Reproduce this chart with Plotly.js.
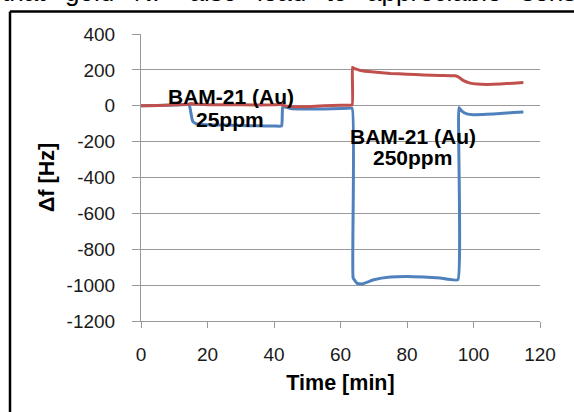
<!DOCTYPE html>
<html>
<head>
<meta charset="utf-8">
<script src="https://cdn.plot.ly/plotly-3.0.1.min.js"></script>
<style>html,body{margin:0;padding:0;background:#fff;}#chart{width:574px;height:412px;}</style>
</head>
<body>
<div id="chart"></div>
<script>
// Time [min] and frequency shift [Hz]
const blueTime = [0, 5, 10, 14.5, 15, 15.5, 16.5, 18, 25, 30, 35, 40, 42.3, 42.6, 43.5, 45, 50, 55, 60, 63.5, 63.8, 65, 66.5, 70, 75, 80, 85, 90, 95.3, 95.6, 96.5, 98, 100, 104, 108, 112, 115];
const blueShift = [0, 2, 4, 5, -40, -85, -100, -105, -108, -110, -112, -113, -113, -5, -8, -15, -18, -18, -16, -15, -960, -990, -993, -970, -955, -952, -955, -960, -970, -10, -30, -45, -50, -48, -43, -38, -35];
const redTime = [0, 5, 10, 14, 15, 16, 20, 30, 40, 42.5, 43, 45, 50, 55, 60, 63.5, 63.6, 64.5, 66, 70, 75, 80, 85, 90, 94.5, 95.5, 97, 99, 101, 104, 108, 112, 115];
const redShift = [0, 2, 5, 8, 12, 10, 6, 5, 5, 8, 2, -5, -5, 0, 3, 5, 214, 205, 197, 188, 180, 176, 172, 169, 167, 160, 140, 126, 121, 119, 121, 126, 130];
const xTicks = [0, 20, 40, 60, 80, 100, 120];
const yTicks = [400, 200, 0, -200, -400, -600, -800, -1000, -1200];
const labels = ["BAM-21 (Au)", "25ppm", "BAM-21 (Au)", "250ppm"];
const topWords = ["that", "gold", "NP", "also", "lead", "to", "appreciable", "sensor"];

const W = 574, H = 412;
const px = v => v / W;
const py = v => (H - v) / H;
const gap = "\u00A0\u00A0\u2009";

const traces = [
  {x: blueTime, y: blueShift, type: 'scatter', mode: 'lines', line: {color: '#4F81BD', width: 3, shape: 'spline', smoothing: 0.3}, showlegend: false, hoverinfo: 'skip'},
  {x: redTime, y: redShift, type: 'scatter', mode: 'lines', line: {color: '#C0504D', width: 3, shape: 'spline', smoothing: 0.3}, showlegend: false, hoverinfo: 'skip'}
];

const tickFont = {family: 'Liberation Sans, Arial, sans-serif', size: 19, color: '#1a1a1a'};
const titleFont = {family: 'Liberation Sans, Arial, sans-serif', size: 21.5, color: '#000'};
const annFont = {family: 'Liberation Sans, Arial, sans-serif', size: 21, color: '#000'};

const layout = {
  width: W, height: H,
  margin: {l: 0, r: 0, t: 0, b: 0},
  paper_bgcolor: '#fff', plot_bgcolor: '#fff',
  showlegend: false,
  xaxis: {
    domain: [px(141), px(540)], range: [0, 120], tickvals: xTicks, ticktext: xTicks.map(String),
    showgrid: false, zeroline: false, showline: true, linecolor: '#999', linewidth: 1,
    ticks: 'outside', ticklen: 6, tickcolor: '#999', tickfont: tickFont, ticklabelstandoff: 10,
    title: {text: '<b>Time [min]</b>', font: titleFont, standoff: 11}, automargin: false, fixedrange: true
  },
  yaxis: {
    domain: [py(321), py(34)], range: [-1200, 400], tickvals: yTicks, ticktext: yTicks.map(String),
    showgrid: true, gridcolor: '#9a9a9a', gridwidth: 1, zeroline: false, showline: true, linecolor: '#999', linewidth: 1,
    ticks: 'outside', ticklen: 8, tickcolor: '#9a9a9a', tickfont: tickFont, ticklabelstandoff: 13,
    title: {text: '<b>Δf [Hz]</b>', font: titleFont, standoff: 6}, automargin: false, fixedrange: true
  },
  annotations: [
    {x: 27.1, y: 49, xref: 'x', yref: 'y', text: '<b>' + labels[0] + '</b>', showarrow: false, font: annFont, xanchor: 'center', yanchor: 'middle'},
    {x: 26.8, y: -79, xref: 'x', yref: 'y', text: '<b>' + labels[1] + '</b>', showarrow: false, font: annFont, xanchor: 'center', yanchor: 'middle'},
    {x: 81.95, y: -174, xref: 'x', yref: 'y', text: '<b>' + labels[2] + '</b>', showarrow: false, font: annFont, xanchor: 'center', yanchor: 'middle'},
    {x: 81.8, y: -291, xref: 'x', yref: 'y', text: '<b>' + labels[3] + '</b>', showarrow: false, font: annFont, xanchor: 'center', yanchor: 'middle'},
    {x: 0, y: py(-8.5), xref: 'paper', yref: 'paper', text: topWords.join(gap), showarrow: false, xanchor: 'left', yanchor: 'middle',
     font: {family: 'Liberation Sans, Arial, sans-serif', size: 26, color: '#000'}}
  ],
  shapes: [
    {type: 'line', xref: 'paper', yref: 'paper', x0: px(10), x1: 1, y0: py(11.5), y1: py(11.5), line: {color: '#000', width: 2.5}},
    {type: 'line', xref: 'paper', yref: 'paper', x0: px(10), x1: px(10), y0: py(11.5), y1: 0, line: {color: '#000', width: 2.5}}
  ]
};

Plotly.newPlot('chart', traces, layout, {staticPlot: true, displayModeBar: false});
</script>
</body>
</html>
